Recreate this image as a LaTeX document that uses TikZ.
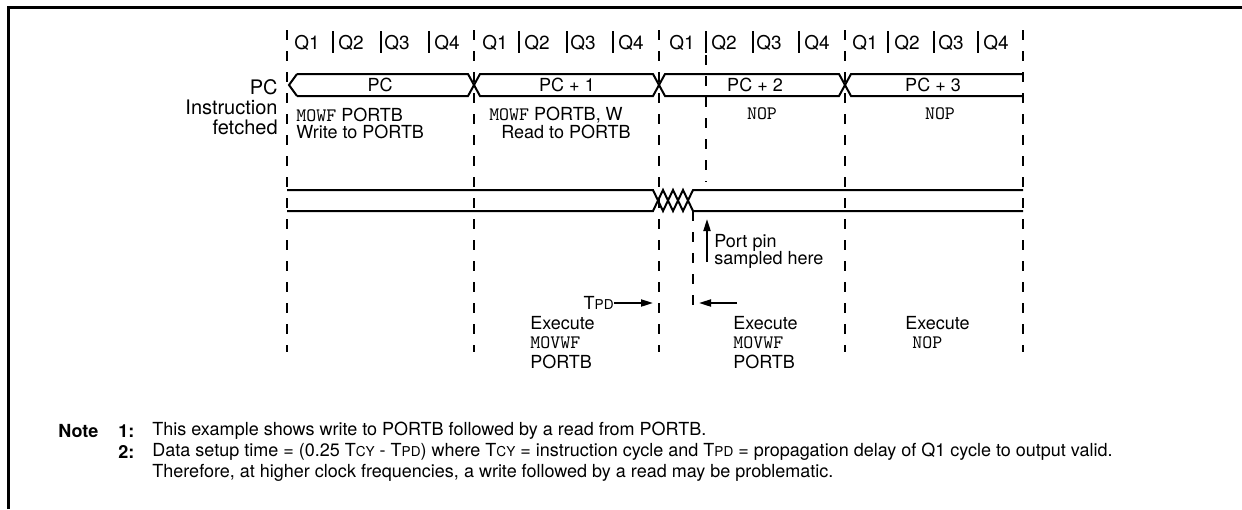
\documentclass[tikz,border=0pt]{standalone}
\usepackage{fontspec}
\setmainfont{TeX Gyre Heros}
\usetikzlibrary{arrows.meta}

\newcommand{\mono}[1]{{\ttfamily\fontsize{9.5}{10}\selectfont #1}}
\newcommand{\tsub}[1]{T{\fontsize{6.8}{7}\selectfont #1}}

\tikzset{
  bus/.style={line width=1pt},
  cyc/.style={line width=1pt, dash pattern=on 5pt off 5.5pt},
  qsep/.style={line width=0.8pt},
  txt/.style={inner sep=0pt, font=\fontsize{9}{10}\selectfont},
  arr/.style={line width=1pt, -{Triangle[length=6pt,width=3.5pt]}}
}

\begin{document}
\begin{tikzpicture}[x=0.5pt,y=0.5pt,yscale=-1]
\useasboundingbox (0,0) rectangle (1242,509);

%Frame
\draw [line width=1.5pt] (8,509) -- (8,7) -- (1242,7) ;

%Cycle boundaries
\draw [cyc] (287,30) -- (287,352) ;
\draw [cyc] (474,30) -- (474,352) ;
\draw [cyc] (659,30) -- (659,352) ;
\draw [cyc] (845,30) -- (845,352) ;
\draw [cyc] (1023,30) -- (1023,352) ;
\draw [cyc] (706,55) -- (706,182) ;
\draw [cyc] (693,211) -- (693,310) ;

%Quarter separators and labels
\foreach \x in {333,381,429,519,567,613,706,753,799,888,934,978}
  \draw [qsep] (\x,31) -- (\x,53) ;
\foreach \x/\q [count=\i] in {307/1,351/2,397/3,447/4,495/1,537/2,583/3,631/4,
    682/1,724/2,769/3,817/4,865/1,907/2,951/3,996/4}
  \node [txt, font=\fontsize{9.5}{10}\selectfont] (q\i) at (\x,43) {Q\q};

%PC bus
\draw [bus] (297,74) -- (289,85) -- (297,96) ;
\draw [bus] (297,74) -- (468,74) -- (480,96) -- (653,96) -- (665,74) -- (839,74) -- (851,96) -- (1023,96) ;
\draw [bus] (297,96) -- (468,96) -- (480,74) -- (653,74) -- (665,96) -- (839,96) -- (851,74) -- (1023,74) ;

%Port bus
\draw [bus] (287,190) -- (653,190) -- (663,211) -- (673,190) -- (683,211) -- (693,190) -- (1023,190) ;
\draw [bus] (287,211) -- (653,211) -- (663,190) -- (673,211) -- (683,190) -- (693,211) -- (1023,211) ;

% Text Node
\node [txt, font=\fontsize{10}{10}\selectfont, anchor=east, align=right] (sig) at (278,107) {PC\\Instruction\\fetched};
\node [txt] (pc0) at (380,85) {PC};
\node [txt] (pc1) at (567,85) {PC + 1};
\node [txt] (pc2) at (755,85) {PC + 2};
\node [txt] (pc3) at (933,85) {PC + 3};
\node [txt, anchor=west] (ins0a) at (296,115) {\mono{MOWF} PORTB};
\node [txt, anchor=west] (ins0b) at (296,132) {Write to PORTB};
\node [txt] (ins1a) at (556,115) {\mono{MOWF} PORTB, W};
\node [txt] (ins1b) at (566,132) {Read to PORTB};
\node [txt] (ins2) at (762,114) {\mono{NOP}};
\node [txt] (ins3) at (940,114) {\mono{NOP}};

%Sample point and delay
\coordinate (pinlow) at (707,262);
\coordinate (pintop) at (707,219);
\draw [arr] (pinlow) -- (pintop) ;
\node [txt, anchor=west] (pin1) at (714,243) {Port pin};
\node [txt, anchor=west] (pin2) at (714,260) {sampled here};
\node [txt, anchor=east] (tpd) at (614,303) {\tsub{PD}};
\coordinate (tpdend) at (653,303);
\draw [arr] (tpd) -- (tpdend) ;
\coordinate (smpstart) at (737,303);
\coordinate (smpend) at (699,303);
\draw [arr] (smpstart) -- (smpend) ;

% Text Node
\node [txt, anchor=west] (ex1) at (530,323) {Execute};
\node [txt, anchor=west] (mv1) at (530,343) {\mono{MOVWF}};
\node [txt, anchor=west] (pb1) at (530,362) {PORTB};
\node [txt, anchor=west] (ex2) at (733,323) {Execute};
\node [txt, anchor=west] (mv2) at (733,343) {\mono{MOVWF}};
\node [txt, anchor=west] (pb2) at (733,362) {PORTB};
\node [txt, anchor=west] (ex3) at (905,323) {Execute};
\node [txt, anchor=west] (nop3) at (912,343) {\mono{NOP}};

%Notes
\node [txt, font=\fontsize{9}{10}\selectfont\bfseries, anchor=west] (note) at (58,431) {Note};
\node [txt, font=\fontsize{9}{10}\selectfont\bfseries, anchor=west] (n1) at (118,431) {1:};
\node [txt, font=\fontsize{9}{10}\selectfont\bfseries, anchor=west] (n2) at (118,452) {2:};
\node [txt, anchor=west] (n1t) at (152,431) {This example shows write to PORTB followed by a read from PORTB.};
\node [txt, anchor=west] (n2t) at (152,452) {Data setup time = (0.25 \tsub{CY} - \tsub{PD}) where \tsub{CY} = instruction cycle and \tsub{PD} = propagation delay of Q1 cycle to output valid.};
\node [txt, anchor=west] (n3t) at (152,473) {Therefore, at higher clock frequencies, a write followed by a read may be problematic.};

\end{tikzpicture}
\end{document}
